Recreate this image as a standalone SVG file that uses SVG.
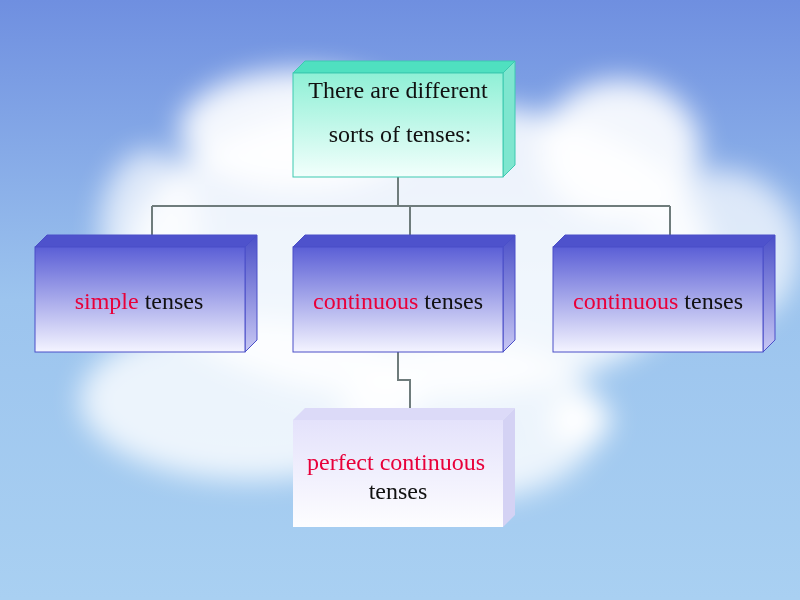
<svg xmlns="http://www.w3.org/2000/svg" width="800" height="600" viewBox="0 0 800 600">
<defs>
<linearGradient id="sky" x1="0" y1="0" x2="0" y2="1"><stop offset="0" stop-color="#6f8fe0"/><stop offset="0.5" stop-color="#9cc4ee"/><stop offset="1" stop-color="#a9d0f2"/></linearGradient>
<filter id="blur"><feGaussianBlur stdDeviation="14"/></filter>
<linearGradient id="blueF" x1="0" y1="0" x2="0" y2="1"><stop offset="0" stop-color="#5b5fd6"/><stop offset="1" stop-color="#f4f4ff"/></linearGradient>
<linearGradient id="blueS" x1="0" y1="0" x2="0" y2="1"><stop offset="0" stop-color="#4a4fc8"/><stop offset="1" stop-color="#c8c8f4"/></linearGradient>
<linearGradient id="tealF" x1="0" y1="0" x2="0" y2="1"><stop offset="0" stop-color="#8ff0d6"/><stop offset="1" stop-color="#f2fffc"/></linearGradient>
<linearGradient id="lavF" x1="0" y1="0" x2="0" y2="1"><stop offset="0" stop-color="#e4e2fb"/><stop offset="1" stop-color="#fdfdff"/></linearGradient>
<style>
.t{font-family:"Liberation Serif",serif;font-size:24px;fill:#111;text-anchor:middle}
.r{fill:#e8003a}
.c{stroke:#6f7c7c;stroke-width:2;fill:none}
.bf{fill:url(#blueF);stroke:#4a4fc8;stroke-width:1}
.bt{fill:#4e52cc;stroke:#4a4fc8}
.bs{fill:url(#blueS);stroke:#4a4fc8}
</style>
</defs>
<rect width="800" height="600" fill="url(#sky)"/>
<g filter="url(#blur)" fill="#fff">
<ellipse cx="420" cy="250" rx="290" ry="150" opacity="0.85"/>
<ellipse cx="300" cy="130" rx="120" ry="60" opacity="0.9"/>
<ellipse cx="620" cy="150" rx="80" ry="70" opacity="0.9"/>
<ellipse cx="720" cy="250" rx="80" ry="80" opacity="0.7"/>
<ellipse cx="250" cy="400" rx="170" ry="80" opacity="0.8"/>
<ellipse cx="470" cy="420" rx="130" ry="80" opacity="0.8"/>
<ellipse cx="580" cy="420" rx="30" ry="25"/>
<ellipse cx="150" cy="230" rx="50" ry="80" opacity="0.7"/>
</g>
<g id="connectors">
<path class="c" d="M398 177V206M152 206H670M152 206V235M410 206V235M670 206V235"/>
<path class="c" d="M398 352V380H410V408"/>
</g>
<g id="top">
<polygon points="293,73 305,61 515,61 503,73" fill="#4fe0c0" stroke="#3cc9b0"/>
<polygon points="503,73 515,61 515,165 503,177" fill="#7ee6cf" stroke="#3cc9b0"/>
<rect x="293" y="73" width="210" height="104" fill="url(#tealF)" stroke="#3cc9b0"/>
<text class="t" x="398" y="98">There are different</text>
<text class="t" x="400" y="142">sorts of tenses:</text>
</g>
<g id="simple">
<polygon class="bt" points="35,247 47,235 257,235 245,247"/>
<polygon class="bs" points="245,247 257,235 257,340 245,352"/>
<rect class="bf" x="35" y="247" width="210" height="105"/>
<text class="t" x="139" y="309"><tspan class="r">simple</tspan> tenses</text>
</g>
<g id="continuous1">
<polygon class="bt" points="293,247 305,235 515,235 503,247"/>
<polygon class="bs" points="503,247 515,235 515,340 503,352"/>
<rect class="bf" x="293" y="247" width="210" height="105"/>
<text class="t" x="398" y="309"><tspan class="r">continuous</tspan> tenses</text>
</g>
<g id="continuous2">
<polygon class="bt" points="553,247 565,235 775,235 763,247"/>
<polygon class="bs" points="763,247 775,235 775,340 763,352"/>
<rect class="bf" x="553" y="247" width="210" height="105"/>
<text class="t" x="658" y="309"><tspan class="r">continuous</tspan> tenses</text>
</g>
<g id="perfect">
<polygon points="293,420 305,408 515,408 503,420" fill="#dcdaf8"/>
<polygon points="503,420 515,408 515,515 503,527" fill="#d4d2f4"/>
<rect x="293" y="420" width="210" height="107" fill="url(#lavF)"/>
<text class="t" x="396" y="470"><tspan class="r">perfect continuous</tspan></text>
<text class="t" x="398" y="499">tenses</text>
</g>
</svg>
